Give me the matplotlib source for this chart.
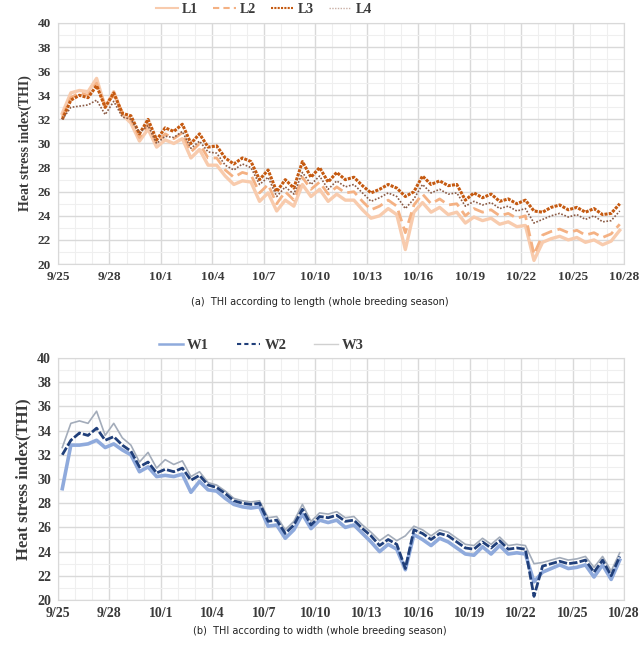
import numpy as np
import pandas as pd
import matplotlib
matplotlib.use("Agg")
import matplotlib.pyplot as plt
from matplotlib.lines import Line2D
from matplotlib.ticker import MultipleLocator

# ====================================
# DATA (12-hourly readings, 9/25 06:00 -> 10/28)
# ====================================

times = pd.date_range("2023-09-25 06:00", periods=66, freq="12h")
start = pd.Timestamp("2023-09-25")
day_tick_labels = ["9/25", "9/28", "10/1", "10/4", "10/7", "10/10",
                   "10/13", "10/16", "10/19", "10/22", "10/25", "10/28"]

L1 = [32.5, 34.2, 34.4, 34.3, 35.4, 33.0, 34.3, 32.4, 31.7, 30.2, 31.2, 29.7,
      30.3, 30.0, 30.4, 28.8, 29.5, 28.2, 28.2, 27.3, 26.6, 26.9, 26.8, 25.2,
      25.9, 24.4, 25.3, 24.8, 26.6, 25.6, 26.2, 25.2, 25.8, 25.3, 25.3, 24.5,
      23.8, 24.0, 24.6, 24.1, 21.2, 24.3, 25.1, 24.3, 24.7, 24.1, 24.3, 23.4,
      23.9, 23.6, 23.8, 23.3, 23.5, 23.1, 23.2, 20.3, 21.8, 22.1, 22.3, 22.0,
      22.2, 21.8, 22.0, 21.6, 21.9, 22.8]
L2 = [32.2, 33.8, 34.2, 34.0, 35.0, 33.2, 34.0, 32.6, 32.0, 30.5, 31.6, 30.0,
      30.8, 30.4, 30.9, 29.3, 30.0, 28.8, 28.8, 27.8, 27.2, 27.6, 27.4, 25.9,
      26.6, 25.0, 26.0, 25.3, 27.2, 26.2, 26.8, 25.8, 26.4, 25.9, 26.0, 25.2,
      24.5, 24.8, 25.3, 24.8, 22.6, 24.9, 25.8, 25.0, 25.4, 24.9, 25.0, 24.0,
      24.6, 24.3, 24.5, 24.0, 24.2, 23.8, 24.0, 20.8, 22.4, 22.7, 22.9, 22.6,
      22.8, 22.4, 22.6, 22.2, 22.5, 23.3]
L3 = [32.0, 33.6, 34.0, 33.8, 34.8, 33.0, 34.2, 32.5, 32.3, 30.8, 32.0, 30.3,
      31.3, 31.0, 31.6, 30.0, 30.8, 29.7, 29.8, 28.8, 28.3, 28.8, 28.5, 27.0,
      27.8, 26.0, 27.0, 26.3, 28.5, 27.2, 28.0, 26.8, 27.6, 27.0, 27.2, 26.5,
      25.9, 26.2, 26.6, 26.3, 25.6, 26.0, 27.3, 26.6, 26.9, 26.5, 26.6, 25.3,
      25.9, 25.5, 25.8, 25.2, 25.4, 25.0, 25.3, 24.4, 24.3, 24.7, 24.9, 24.5,
      24.7, 24.3, 24.6, 24.1, 24.2, 25.0]
L4 = [32.0, 33.0, 33.1, 33.2, 33.6, 32.4, 33.5, 32.2, 32.0, 30.9, 31.5, 30.0,
      30.6, 30.5, 31.0, 29.6, 30.2, 29.3, 29.2, 28.2, 27.8, 28.3, 28.0, 26.6,
      27.2, 25.6, 26.4, 25.8, 27.6, 26.6, 27.3, 26.2, 26.9, 26.4, 26.6, 25.9,
      25.2, 25.5, 25.9, 25.6, 24.6, 25.4, 26.6, 25.9, 26.2, 25.8, 25.9, 24.8,
      25.2, 24.9, 25.1, 24.6, 24.8, 24.4, 24.6, 23.4, 23.7, 24.0, 24.2, 23.9,
      24.1, 23.7, 24.0, 23.5, 23.6, 24.4]

W1 = [29.2, 32.8, 32.8, 32.9, 33.2, 32.6, 32.9, 32.4, 32.0, 30.6, 31.0, 30.2,
      30.3, 30.2, 30.4, 28.9, 29.8, 29.1, 29.0, 28.4, 27.9, 27.7, 27.6, 27.7,
      26.1, 26.2, 25.1, 25.8, 27.1, 25.9, 26.6, 26.4, 26.6, 26.0, 26.2, 25.5,
      24.8, 24.0, 24.6, 24.2, 22.5, 25.4, 25.0, 24.5, 25.1, 24.8, 24.3, 23.8,
      23.7, 24.4, 23.8, 24.5, 23.8, 23.9, 23.8, 21.5, 22.3, 22.6, 22.9, 22.6,
      22.7, 22.9, 21.9, 22.9, 21.7, 23.3]
W2 = [32.0, 33.2, 33.8, 33.6, 34.2, 33.2, 33.5, 32.8, 32.3, 31.0, 31.4, 30.5,
      30.8, 30.6, 30.9, 29.9, 30.3, 29.5, 29.3, 28.8, 28.2, 28.0, 27.9, 28.0,
      26.5, 26.6, 25.5, 26.2, 27.5, 26.2, 26.9, 26.8, 27.0, 26.5, 26.6, 25.9,
      25.3, 24.5, 25.0, 24.6, 22.6, 25.8, 25.5, 25.0, 25.5, 25.3, 24.8, 24.3,
      24.2, 24.8, 24.3, 24.9, 24.2, 24.3, 24.2, 20.3, 22.8, 23.0, 23.2, 23.0,
      23.1, 23.3, 22.3, 23.3, 22.0, 23.6]
W3 = [32.6, 34.6, 34.8, 34.6, 35.6, 33.6, 34.6, 33.4, 32.8, 31.4, 32.2, 30.9,
      31.6, 31.2, 31.5, 30.2, 30.6, 29.7, 29.5, 29.0, 28.4, 28.2, 28.1, 28.2,
      26.8, 26.9, 25.8, 26.5, 27.9, 26.5, 27.2, 27.1, 27.3, 26.8, 26.9, 26.2,
      25.6, 24.9, 25.4, 24.9, 25.3, 26.1, 25.8, 25.3, 25.8, 25.6, 25.1, 24.6,
      24.5, 25.1, 24.6, 25.2, 24.5, 24.6, 24.5, 23.0, 23.1, 23.3, 23.5, 23.3,
      23.4, 23.6, 22.7, 23.6, 22.4, 23.9]

# ====================================
# STYLE
# ====================================

serif = "Liberation Serif"
days = (times - start) / pd.Timedelta(days=1)


def style_axes(ax, tick_size):
    ax.set_xlim(0, 33)
    ax.set_ylim(20, 40)
    ax.set_xticks(np.arange(0, 34, 3))
    ax.set_xticklabels(day_tick_labels)
    ax.xaxis.set_minor_locator(MultipleLocator(1))
    ax.yaxis.set_major_locator(MultipleLocator(2))
    ax.yaxis.set_minor_locator(MultipleLocator(1))
    ax.grid(which="major", color="#D9D9D9", lw=1.0)
    ax.grid(which="minor", color="#EFEFEF", lw=0.8)
    ax.set_axisbelow(True)
    ax.tick_params(which="both", length=0, pad=5)
    for lab in ax.get_xticklabels() + ax.get_yticklabels():
        lab.set_fontfamily(serif)
        lab.set_fontweight("bold")
        lab.set_fontsize(tick_size)
        lab.set_color("#3A3A3A")
    for sp in ax.spines.values():
        sp.set_color("#D9D9D9")


fig = plt.figure(figsize=(6.43, 6.49), dpi=100)

# ====================================
# PANEL (a) - LENGTH
# ====================================

ax1 = fig.add_axes([0.0902, 0.5932, 0.8803, 0.3714])
ax1.plot(days, L1, color="#F8CBAD", lw=2.4)
ax1.plot(days, L2, color="#F4B183", lw=2.0, ls=(0, (4, 2)))
ax1.plot(days, L3, color="#C55A11", lw=2.2, ls=(0, (1, 0.4)))
ax1.plot(days, L4, color="#8A5A44", lw=1.2, ls=(0, (1, 1)))
style_axes(ax1, 9.5)
ax1.set_ylabel("Heat stress index(THI)", fontfamily=serif, fontweight="bold",
               fontsize=10, color="#3A3A3A", labelpad=4)

# thin proxy handles for the legend
handles_a = [
    Line2D([], [], color="#F8CBAD", lw=1.5),
    Line2D([], [], color="#F4B183", lw=1.5, ls=(0, (3, 2))),
    Line2D([], [], color="#C55A11", lw=1.5, ls=(0, (1, 0.6))),
    Line2D([], [], color="#C9AFA5", lw=1.0, ls=(0, (1, 1))),
]
leg1 = ax1.legend(handles_a, ["L1", "L2", "L3", "L4"], loc="center",
                  bbox_to_anchor=(0.41, 0.985),
                  bbox_transform=fig.transFigure, ncol=4, frameon=False,
                  handlelength=1.6, columnspacing=1.1, handletextpad=0.3,
                  prop={"family": serif, "weight": "bold", "size": 10})
for t in leg1.get_texts():
    t.set_color("#3A3A3A")
fig.text(0.498, 0.535, "(a)  THI according to length (whole breeding season)",
         ha="center", va="center", fontsize=7, color="#222222")

# ====================================
# PANEL (b) - WIDTH
# ====================================

ax2 = fig.add_axes([0.0902, 0.0755, 0.8803, 0.3729])
ax2.plot(days, W1, color="#8FAADC", lw=2.6)
ax2.plot(days, W3, color="#A3ACBA", lw=1.2)
ax2.plot(days, W2, color="#203F7A", lw=2.0, ls=(0, (3, 0.8)))
style_axes(ax2, 10)
ax2.set_ylabel("Heat stress index(THI)", fontfamily=serif, fontweight="bold",
               fontsize=12, color="#3A3A3A", labelpad=4)

handles_b = [
    Line2D([], [], color="#8FAADC", lw=1.8),
    Line2D([], [], color="#203F7A", lw=1.5, ls=(0, (2, 1.5))),
    Line2D([], [], color="#D0D0D0", lw=1.0),
]
leg2 = ax2.legend(handles_b, ["W1", "W2", "W3"], loc="center",
                  bbox_to_anchor=(0.407, 0.468), bbox_transform=fig.transFigure,
                  ncol=3, frameon=False, handlelength=1.6, columnspacing=1.9,
                  handletextpad=0.3,
                  prop={"family": serif, "weight": "bold", "size": 10.5})
for t in leg2.get_texts():
    t.set_color("#3A3A3A")
fig.text(0.498, 0.028, "(b)  THI according to width (whole breeding season)",
         ha="center", va="center", fontsize=7, color="#222222")

fig.savefig("out.png", dpi=100)
print("Saved out.png")
